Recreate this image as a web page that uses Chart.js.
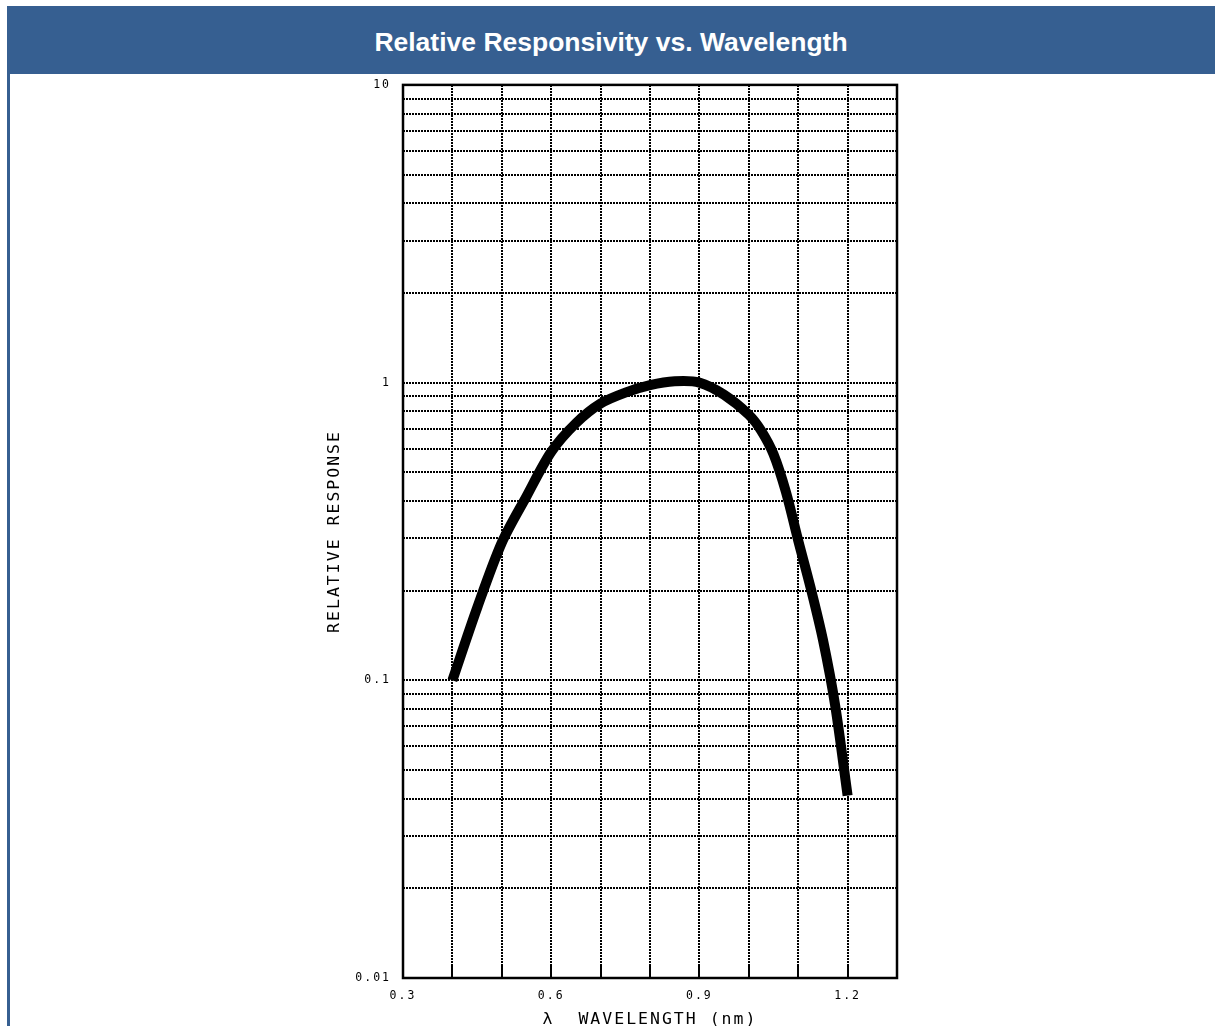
<!DOCTYPE html>
<html>
<head>
<meta charset="utf-8">
<script src="https://cdn.jsdelivr.net/npm/chart.js@4.4.1/dist/chart.umd.min.js"></script>
<style>
  body { margin: 0; background: #fff; overflow: hidden; width: 1215px; height: 1026px; position: relative; }
  .head { position: absolute; left: 7px; top: 6px; width: 1208px; height: 68px; background: #365f91;
          color: #fff; font: bold 26.5px "Liberation Sans", Arial, sans-serif; text-align: center; line-height: 72px; }
  .side { position: absolute; left: 7px; top: 74px; width: 3px; height: 952px; background: #365f91; }
  .plot { position: absolute; left: 321px; top: 66px; width: 587px; height: 968px; }
</style>
</head>
<body>
<div class="head">Relative Responsivity vs. Wavelength</div>
<div class="side"></div>
<div class="plot"><canvas id="chart"></canvas></div>
<script>
// curve
const wavelength = [0.4, 0.45, 0.5, 0.55, 0.6, 0.65, 0.7, 0.75, 0.8, 0.85, 0.9, 0.95, 1.0, 1.025, 1.05, 1.075, 1.1, 1.125, 1.15, 1.175, 1.2]
const response = [0.1, 0.175, 0.29, 0.415, 0.585, 0.73, 0.85, 0.925, 0.98, 1.01, 1.0, 0.91, 0.78, 0.69, 0.575, 0.43, 0.295, 0.205, 0.137, 0.082, 0.041]

// axes
const xTickValues = [0.3, 0.4, 0.5, 0.6, 0.7, 0.8, 0.9, 1.0, 1.1, 1.2, 1.3]
const xTickLabels = { '0.3': '0.3', '0.6': '0.6', '0.9': '0.9', '1.2': '1.2' }
const yTickValues = [0.01, 0.02, 0.03, 0.04, 0.05, 0.06, 0.07, 0.08, 0.09,
                     0.1, 0.2, 0.3, 0.4, 0.5, 0.6, 0.7, 0.8, 0.9,
                     1, 2, 3, 4, 5, 6, 7, 8, 9, 10]
const yTickLabels = { '0.01': '0.01', '0.1': '0.1', '1': '1', '10': '10' }

const mono = '"DejaVu Sans Mono", monospace'

const spacing = {
  id: 'spacing',
  beforeUpdate(chart) { chart.ctx.letterSpacing = '2px' },
  beforeDraw(chart) { chart.ctx.letterSpacing = '2px' }
}

const frame = {
  id: 'frame',
  afterDatasetsDraw(chart) {
    const { ctx, chartArea: a, scales } = chart
    ctx.save()
    ctx.strokeStyle = '#000'
    ctx.lineWidth = 2
    ctx.beginPath()
    xTickValues.slice(1, -1).forEach(v => {
      const px = Math.round(scales.x.getPixelForValue(v))
      ctx.moveTo(px, a.bottom)
      ctx.lineTo(px, a.bottom - 12)
    })
    ctx.stroke()
    ctx.lineWidth = 2.5
    ctx.strokeRect(a.left, a.top, a.right - a.left, a.bottom - a.top)
    ctx.restore()
  }
}

const ctx = document.getElementById('chart')

new Chart(ctx, {
  type: 'line',
  data: {
    datasets: [{
      data: wavelength.map((x, i) => ({ x: x, y: response[i] })),
      borderColor: '#000',
      borderWidth: 10,
      pointRadius: 0,
      tension: 0.3,
      borderCapStyle: 'butt'
    }]
  },
  options: {
    responsive: true,
    maintainAspectRatio: false,
    animation: false,
    layout: { padding: { left: 0, right: 8, top: 2, bottom: 0 } },
    plugins: { legend: { display: false }, tooltip: { enabled: false } },
    scales: {
      x: {
        type: 'linear',
        min: 0.3,
        max: 1.3,
        afterBuildTicks: s => { s.ticks = xTickValues.map(v => ({ value: v })) },
        afterFit: s => { s.height = 56 },
        grid: { color: '#000', lineWidth: 2, drawTicks: false },
        border: { display: false, dash: [2, 1] },
        ticks: {
          autoSkip: false,
          maxRotation: 0,
          padding: 11,
          color: '#000',
          font: { family: mono, size: 11.5 },
          callback: v => xTickLabels[(Math.round(v * 10) / 10).toString()] || ''
        },
        title: {
          display: true,
          text: 'λ  WAVELENGTH (nm)',
          color: '#000',
          font: { family: mono, size: 16.5 },
          padding: { top: 0, bottom: 4 }
        }
      },
      y: {
        type: 'logarithmic',
        min: 0.01,
        max: 10,
        afterBuildTicks: s => { s.ticks = yTickValues.map(v => ({ value: v })) },
        afterFit: s => { s.width = 82 },
        grid: { color: '#000', lineWidth: 2, drawTicks: false },
        border: { display: false, dash: [2, 1] },
        ticks: {
          autoSkip: false,
          padding: 12,
          color: '#000',
          font: { family: mono, size: 11.5 },
          callback: v => yTickLabels[v.toString()] || ''
        },
        title: {
          display: true,
          text: 'RELATIVE RESPONSE',
          color: '#000',
          font: { family: mono, size: 16.5 },
          padding: { top: 4, bottom: 0 }
        }
      }
    }
  },
  plugins: [spacing, frame]
})
</script>
</body>
</html>
